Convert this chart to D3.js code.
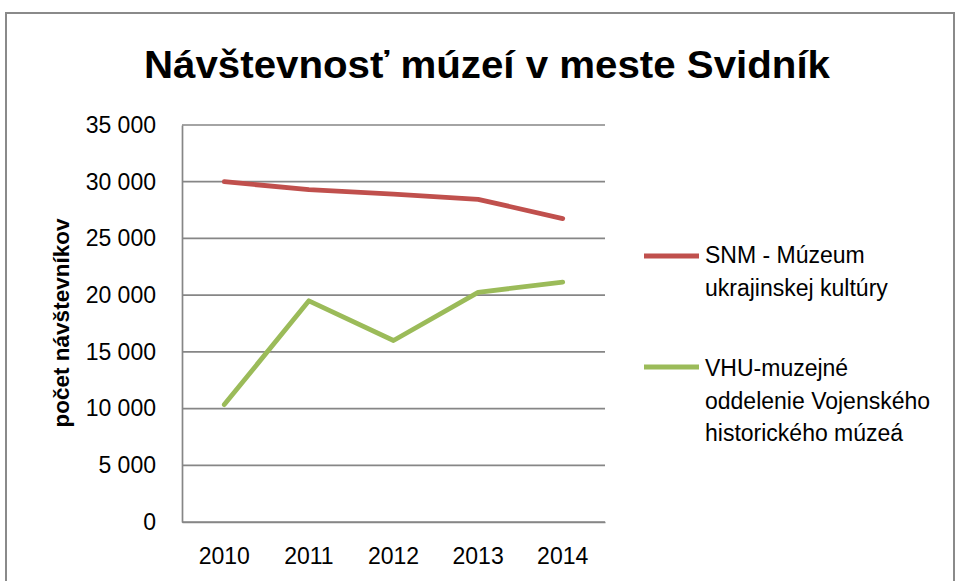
<!DOCTYPE html>
<html>
<head>
<meta charset="utf-8">
<script src="https://cdn.jsdelivr.net/npm/d3@7"></script>
<style>
  body { margin: 0; background: #fff; }
  text { font-family: "Liberation Sans", Arial, sans-serif; }
</style>
</head>
<body>
<svg id="chart"></svg>
<script>
// data
const years = ["2010", "2011", "2012", "2013", "2014"];
const snm = [30000, 29300, 28900, 28450, 26750];
const vhu = [10350, 19500, 16000, 20250, 21150];
const yTicks = [0, 5000, 10000, 15000, 20000, 25000, 30000, 35000];
const seriesNames = [
    ["SNM - Múzeum", "ukrajinskej kultúry"],
    ["VHU-muzejné", "oddelenie Vojenského", "historického múzeá"]
];
const colors = ["#C0504D", "#9BBB59"];

const width = 958, height = 581;
const plot = { left: 182, right: 605, top: 125, bottom: 522 };
const labelFont = "'Liberation Sans', Arial, sans-serif";

const svg = d3.select("#chart")
    .attr("width", width)
    .attr("height", height);

// outer frame
svg.append("rect")
    .attr("x", 6).attr("y", 13)
    .attr("width", 948).attr("height", 580)
    .attr("fill", "none")
    .attr("stroke", "#8a8a8a")
    .attr("stroke-width", 2);

svg.append("text")
    .attr("x", 487).attr("y", 78)
    .attr("text-anchor", "middle")
    .attr("font-size", 38)
    .attr("font-weight", "bold")
    .attr("textLength", 686)
    .attr("lengthAdjust", "spacingAndGlyphs")
    .text("Návštevnosť múzeí v meste Svidník");

const xScale = d3.scaleBand()
    .domain(years)
    .range([plot.left, plot.right]);

const yScale = d3.scaleLinear()
    .domain([0, 35000])
    .range([plot.bottom, plot.top]);

const fmt = d3.formatLocale({ decimal: ",", thousands: " ", grouping: [3], currency: ["", ""] }).format(",");

// gridlines
svg.selectAll(".grid")
    .data(yTicks)
    .enter()
    .append("line")
    .attr("class", "grid")
    .attr("x1", plot.left).attr("x2", plot.right)
    .attr("y1", d => yScale(d)).attr("y2", d => yScale(d))
    .attr("stroke", "#868686")
    .attr("stroke-width", 1.7);

// y axis
const yAxis = svg.append("g")
    .attr("transform", "translate(" + plot.left + ",0)")
    .call(d3.axisLeft(yScale).tickValues(yTicks).tickSize(0).tickPadding(26).tickFormat(fmt));
yAxis.select(".domain").attr("stroke", "#868686").attr("stroke-width", 1.7);
yAxis.selectAll("text")
    .attr("font-size", 23)
    .attr("fill", "#000")
    .style("font-family", labelFont);

// x axis
const xAxis = svg.append("g")
    .attr("transform", "translate(0," + plot.bottom + ")")
    .call(d3.axisBottom(xScale).tickSize(0).tickPadding(26));
xAxis.select(".domain").attr("stroke", "#868686").attr("stroke-width", 1.7);
xAxis.selectAll("text")
    .attr("font-size", 23)
    .attr("fill", "#000")
    .style("font-family", labelFont);

svg.append("text")
    .attr("transform", "translate(69,323) rotate(-90)")
    .attr("text-anchor", "middle")
    .attr("font-size", 22.5)
    .attr("font-weight", "bold")
    .text("počet návštevníkov");

// lines
const line = d3.line()
    .x((d, i) => xScale(years[i]) + xScale.bandwidth() / 2)
    .y(d => yScale(d));

[snm, vhu].forEach((s, k) => {
    svg.append("path")
        .datum(s)
        .attr("d", line)
        .attr("fill", "none")
        .attr("stroke", colors[k])
        .attr("stroke-width", 4.8)
        .attr("stroke-linejoin", "round")
        .attr("stroke-linecap", "round");
});

// legend
const legendLineY = [256, 367];
const legendTextY = [263, 376];
seriesNames.forEach((lines, k) => {
    svg.append("line")
        .attr("x1", 644).attr("x2", 699)
        .attr("y1", legendLineY[k]).attr("y2", legendLineY[k])
        .attr("stroke", colors[k])
        .attr("stroke-width", 4.8);
    const t = svg.append("text")
        .attr("x", 705)
        .attr("y", legendTextY[k])
        .attr("font-size", 23);
    t.selectAll("tspan")
        .data(lines)
        .enter()
        .append("tspan")
        .attr("x", 705)
        .attr("dy", (d, i) => i === 0 ? 0 : 32.5)
        .text(d => d);
});
</script>
</body>
</html>
